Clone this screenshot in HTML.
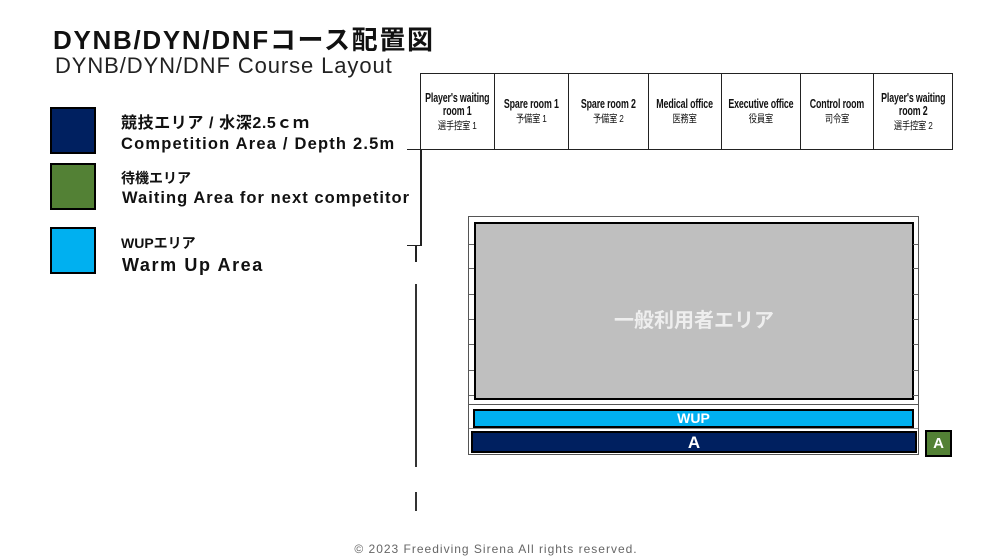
<!DOCTYPE html>
<html><head><meta charset="utf-8"><style>
body{margin:0;width:992px;height:557px;background:#fff;position:relative;overflow:hidden;font-family:"Liberation Sans","Noto Sans CJK JP",sans-serif;color:#111}
.a{position:absolute}
.room{position:absolute;top:73px;height:77px;border:1px solid #222;box-sizing:border-box;text-align:center;display:flex;align-items:center;justify-content:center;overflow:hidden}
.room div{white-space:nowrap;font-weight:bold;font-size:13px;line-height:13px;transform:scaleX(0.68);letter-spacing:-0.2px}
.room small{display:block;font-weight:normal;font-size:10.5px;margin-top:3px;transform:scaleX(1.15)}
.ln{position:absolute;background:#222}
.tick{position:absolute;height:1px;background:#666;width:5px}
</style></head><body>
<div class="a" style="left:53px;top:24px;font-size:26px;font-weight:bold;letter-spacing:1.7px;line-height:32px">DYNB/DYN/DNFコース配置図</div>
<div class="a" style="left:55px;top:53px;font-size:22px;letter-spacing:0.9px;line-height:26px;color:#222">DYNB/DYN/DNF Course Layout</div>

<div class="a" style="left:50px;top:107px;width:42px;height:43px;background:#002060;border:2px solid #000"></div>
<div class="a" style="left:50px;top:163px;width:42px;height:43px;background:#538135;border:2px solid #000"></div>
<div class="a" style="left:50px;top:227px;width:42px;height:43px;background:#00b0f0;border:2px solid #000"></div>

<div class="a" style="left:121px;top:114px;font-size:16px;font-weight:bold;line-height:20px;letter-spacing:0.6px">競技エリア / 水深2.5ｃｍ</div>
<div class="a" style="left:121px;top:134px;font-size:16.5px;font-weight:bold;line-height:20px;letter-spacing:1.2px">Competition Area / Depth 2.5m</div>
<div class="a" style="left:121px;top:169px;font-size:14px;font-weight:bold;line-height:18px">待機エリア</div>
<div class="a" style="left:122px;top:188px;font-size:16.5px;font-weight:bold;line-height:20px;letter-spacing:1.05px">Waiting Area for next competitor</div>
<div class="a" style="left:121px;top:234px;font-size:14px;font-weight:bold;line-height:18px">WUPエリア</div>
<div class="a" style="left:122px;top:254px;font-size:18px;font-weight:bold;line-height:22px;letter-spacing:1.6px">Warm Up Area</div>

<div class="room" style="left:420px;width:75px"><div>Player's waiting<br>room 1<small>選手控室 1</small></div></div>
<div class="room" style="left:494px;width:75px"><div>Spare room 1<small>予備室 1</small></div></div>
<div class="room" style="left:568px;width:81px"><div>Spare room 2<small>予備室 2</small></div></div>
<div class="room" style="left:648px;width:74px"><div>Medical office<small>医務室</small></div></div>
<div class="room" style="left:721px;width:80px"><div>Executive office<small>役員室</small></div></div>
<div class="room" style="left:800px;width:74px"><div>Control room<small>司令室</small></div></div>
<div class="room" style="left:873px;width:80px"><div>Player's waiting<br>room 2<small>選手控室 2</small></div></div>

<div class="ln" style="left:407px;top:149px;width:14px;height:1px"></div>
<div class="ln" style="left:420px;top:149px;width:2px;height:97px"></div>
<div class="ln" style="left:407px;top:245px;width:15px;height:1px"></div>
<div class="ln" style="left:415px;top:245px;width:2px;height:17px"></div>
<div class="ln" style="left:415px;top:284px;width:2px;height:183px;background:#333"></div>
<div class="ln" style="left:415px;top:492px;width:2px;height:19px;background:#333"></div>

<div class="a" style="left:468px;top:216px;width:449px;height:237px;border:1px solid #555;box-sizing:content-box"></div>
<div class="a" style="left:474px;top:222px;width:436px;background:#bfbfbf;border:2px solid #000;color:#eee;font-weight:bold;font-size:20px;display:flex;align-items:center;justify-content:center;padding-top:14px;box-sizing:content-box;height:160px">一般利用者エリア</div>
<div class="tick" style="left:469px;top:244px"></div><div class="tick" style="left:469px;top:268px"></div><div class="tick" style="left:469px;top:294px"></div><div class="tick" style="left:469px;top:319px"></div><div class="tick" style="left:469px;top:344px"></div><div class="tick" style="left:469px;top:370px"></div><div class="tick" style="left:469px;top:395px"></div>
<div class="tick" style="left:913px;top:244px"></div><div class="tick" style="left:913px;top:268px"></div><div class="tick" style="left:913px;top:294px"></div><div class="tick" style="left:913px;top:319px"></div><div class="tick" style="left:913px;top:344px"></div><div class="tick" style="left:913px;top:370px"></div><div class="tick" style="left:913px;top:395px"></div>
<div class="a" style="left:469px;top:404px;width:449px;height:1px;background:#555"></div>
<div class="a" style="left:469px;top:428px;width:449px;height:1px;background:#888"></div>
<div class="a" style="left:473px;top:409px;width:437px;height:15px;background:#00b0f0;border:2px solid #000;color:#fff;font-weight:bold;font-size:14px;line-height:15px;text-align:center">WUP</div>
<div class="a" style="left:471px;top:431px;width:442px;height:18px;background:#002060;border:2px solid #000;color:#fff;font-weight:bold;font-size:17px;line-height:19px;text-align:center">A</div>
<div class="a" style="left:925px;top:430px;width:23px;height:23px;background:#538135;border:2px solid #000;color:#fff;font-weight:bold;font-size:15px;line-height:23px;text-align:center">A</div>

<div class="a" style="left:0;width:992px;top:542px;text-align:center;font-size:12px;letter-spacing:1px;color:#666">© 2023 Freediving Sirena All rights reserved.</div>
</body></html>
